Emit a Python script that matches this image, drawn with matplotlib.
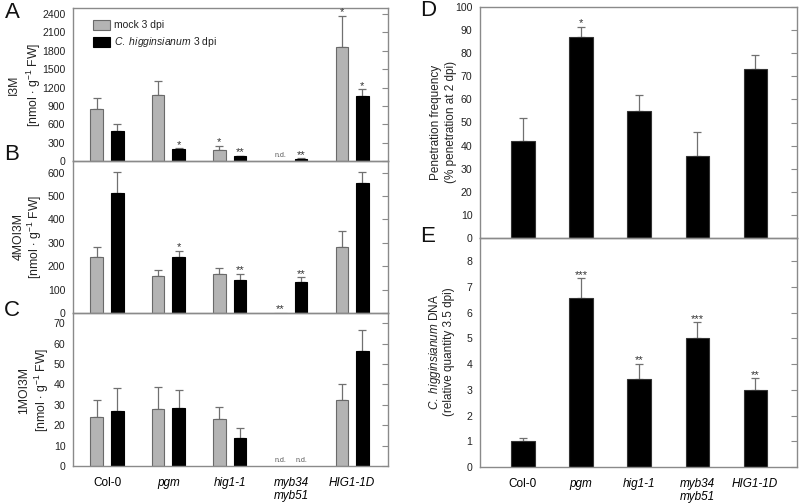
import matplotlib
matplotlib.use('Agg')
import matplotlib.pyplot as plt
from matplotlib.patches import Rectangle
import numpy as np

plt.rcParams['font.family'] = ['Liberation Sans', 'DejaVu Sans']
plt.rcParams['mathtext.fontset'] = 'custom'
plt.rcParams['mathtext.rm'] = 'Liberation Sans'
plt.rcParams['mathtext.it'] = 'Liberation Sans:italic'

# ---------------- data ----------------
genotypes = ['Col-0', 'pgm', 'hig1-1', 'myb34\nmyb51', 'HIG1-1D']
geno_italic = [False, True, True, True, True]

# Panel A: I3M [nmol g-1 FW]
i3m_mock = [843, 1083, 185, 0, 1867]
i3m_mock_err = [191, 223, 60, 0, 500]
i3m_ch = [495, 196, 76, 38, 1056]
i3m_ch_err = [104, 11, 11, 7, 114]
i3m_mock_sig = ['', '', '*', 'n.d.', '*']
i3m_ch_sig = ['', '*', '**', '**', '*']

# Panel B: 4MOI3M
moi4_mock = [238, 157, 168, 2, 284]
moi4_mock_err = [45, 28, 23, 0, 68]
moi4_ch = [514, 241, 142, 132, 557]
moi4_ch_err = [87, 26, 25, 21, 46]
moi4_mock_sig = ['', '', '', '**', '']
moi4_ch_sig = ['', '*', '**', '**', '']

# Panel C: 1MOI3M
moi1_mock = [23.9, 27.8, 23.1, 0, 32.2]
moi1_mock_err = [8.6, 11.0, 5.8, 0, 8.2]
moi1_ch = [27.2, 28.3, 13.9, 0, 56.6]
moi1_ch_err = [11.2, 8.8, 4.6, 0, 10.3]
moi1_mock_sig = ['', '', '', 'n.d.', '']
moi1_ch_sig = ['', '', '', 'n.d.', '']

# Panel D: penetration frequency (%)
pen = [41.8, 87.0, 55.1, 35.5, 73.1]
pen_err = [10.2, 4.3, 6.8, 10.2, 6.1]
pen_sig = ['', '*', '', '', '']

# Panel E: C. higginsianum DNA (relative quantity)
dna = [1.01, 6.55, 3.41, 5.02, 3.01]
dna_err = [0.13, 0.78, 0.61, 0.60, 0.44]
dna_sig = ['', '***', '**', '***', '**']

# ---------------- style ----------------
W, H = 800, 503
GRAY_BAR = '#b4b4b4'
GRAY_EDGE = '#6a6a6a'
SPINE = '#8a8a8a'
ERR = '#707070'
FS_TICK = 7.6
FS_X = 8.5
FS_STAR = 8

fig = plt.figure(figsize=(W / 100, H / 100), dpi=100)


def add_ax(x0, y0, x1, y1):
    return fig.add_axes([x0 / W, 1 - y1 / H, (x1 - x0) / W, (y1 - y0) / H])


def style(ax, ylim, ticks, xlim):
    ax.set_xlim(*xlim)
    ax.set_ylim(*ylim)
    ax.set_yticks(ticks)
    ax.set_yticklabels([str(t) for t in ticks], fontsize=FS_TICK, color='#222222')
    for s in ax.spines.values():
        s.set_color(SPINE)
        s.set_linewidth(1.0)
    ax.tick_params(axis='y', which='both', left=False, right=True, direction='in',
                   length=4, width=0.8, color=SPINE, pad=5.5)
    ax.tick_params(axis='x', bottom=False, labelbottom=False)
    ax.patch.set_alpha(0)


def errs(ax, xs, vals, es):
    xs2 = [x for x, e in zip(xs, es) if e > 0]
    v2 = [v for v, e in zip(vals, es) if e > 0]
    e2 = [e for e in es if e > 0]
    if xs2:
        ax.errorbar(xs2, v2, yerr=[np.zeros(len(e2)), e2], fmt='none', ecolor=ERR,
                    elinewidth=0.9, capsize=3.2, capthick=0.9, zorder=1)


def sigs(ax, xs, vals, es, labels, fs=FS_STAR):
    for x, v, e, s in zip(xs, vals, es, labels):
        if not s:
            continue
        if s == 'n.d.':
            ax.annotate('n.d.', (x, 0), xytext=(0, 1.5), textcoords='offset points',
                        ha='center', va='bottom', fontsize=5, color='#555555')
        else:
            ax.annotate(s, (x, v + e), xytext=(0, -1.0), textcoords='offset points',
                        ha='center', va='bottom', fontsize=fs, color='#333333')


def pair(ax, mock, merr, ch, cherr, msig, chsig):
    x = np.arange(len(mock))
    off, wd = 0.168, 0.205
    xm, xc = x - off, x + off
    keep_m = [i for i, s in enumerate(msig) if s != 'n.d.']
    keep_c = [i for i, s in enumerate(chsig) if s != 'n.d.']
    errs(ax, xm[keep_m], [mock[i] for i in keep_m], [merr[i] for i in keep_m])
    errs(ax, xc[keep_c], [ch[i] for i in keep_c], [cherr[i] for i in keep_c])
    ax.bar(xm[keep_m], [mock[i] for i in keep_m], wd, color=GRAY_BAR,
           edgecolor=GRAY_EDGE, linewidth=0.8, zorder=2)
    ax.bar(xc[keep_c], [ch[i] for i in keep_c], wd, color='black',
           edgecolor='black', linewidth=0.8, zorder=2)
    sigs(ax, xm, mock, merr, msig)
    sigs(ax, xc, ch, cherr, chsig)


LX0, LX1 = 73, 388
xlim_left = (-0.555, 4.585)

axA = add_ax(LX0, 8, LX1, 161)
pair(axA, i3m_mock, i3m_mock_err, i3m_ch, i3m_ch_err, i3m_mock_sig, i3m_ch_sig)
style(axA, (0, 2500), list(range(0, 2401, 300)), xlim_left)

axB = add_ax(LX0, 161, LX1, 313)
pair(axB, moi4_mock, moi4_mock_err, moi4_ch, moi4_ch_err, moi4_mock_sig, moi4_ch_sig)
style(axB, (0, 650), list(range(0, 601, 100)), xlim_left)

axC = add_ax(LX0, 313, LX1, 466)
pair(axC, moi1_mock, moi1_mock_err, moi1_ch, moi1_ch_err, moi1_mock_sig, moi1_ch_sig)
style(axC, (0, 75), list(range(0, 71, 10)), xlim_left)


def xlabels(ax):
    for i, (g, it) in enumerate(zip(genotypes, geno_italic)):
        ax.annotate(g, (i, 0), xytext=(0, -8), textcoords='offset points',
                    ha='center', va='top', fontsize=FS_X,
                    style='italic' if it else 'normal', linespacing=1.05,
                    annotation_clip=False)


xlabels(axC)

# legend in A
lx, ly = 93, 20
for k, (col, ec, lab) in enumerate([(GRAY_BAR, GRAY_EDGE, 'mock 3 dpi'),
                                     ('black', 'black',
                                      r'$\mathit{C.\ higginsianum}$ 3 dpi')]):
    yy = ly + k * 17
    fig.patches.append(Rectangle((lx / W, 1 - (yy + 10) / H), 17 / W, 10 / H,
                                 transform=fig.transFigure, facecolor=col,
                                 edgecolor=ec, linewidth=0.8))
    fig.text((lx + 21) / W, 1 - (yy + 5) / H, lab, fontsize=7.5, va='center',
             ha='left', color='#222222')

# right panels
RX0, RX1 = 480, 797
xlim_right = (-0.74, 4.72)


def single(ax, vals, es, sg):
    x = np.arange(len(vals))
    errs(ax, x, vals, es)
    ax.bar(x, vals, 0.40, color='black', edgecolor='#333333', linewidth=0.8, zorder=2)
    sigs(ax, x, vals, es, sg)


axD = add_ax(RX0, 7, RX1, 238)
single(axD, pen, pen_err, pen_sig)
style(axD, (0, 100), list(range(0, 101, 10)), xlim_right)

axE = add_ax(RX0, 238, RX1, 467)
single(axE, dna, dna_err, dna_sig)
style(axE, (0, 8.9), list(range(0, 9)), xlim_right)
xlabels(axE)


# y labels
def ylab(x, y, s, fs=8.8):
    fig.text(x / W, 1 - y / H, s, rotation=90, ha='center', va='center',
             fontsize=fs, color='#222222')


unit = r'[nmol $\cdot$ g$^{-1}$ FW]'
ylab(14, 85, 'I3M')
ylab(34, 85, unit)
ylab(19, 237, '4MOI3M')
ylab(35, 237, unit)
ylab(24, 390, '1MOI3M')
ylab(42, 390, unit)
ylab(436, 122, 'Penetration frequency', 8.5)
ylab(451, 122, '(% penetration at 2 dpi)', 8.5)
ylab(435, 352, r'$\mathit{C.\ higginsianum}$ DNA', 8.5)
ylab(449, 352, '(relative quantity 3.5 dpi)', 8.5)

# panel letters
for s, x, y in [('A', 12, 13), ('B', 12, 155), ('C', 12, 310), ('D', 428, 10), ('E', 428, 236)]:
    fig.text(x / W, 1 - y / H, s, fontsize=16, ha='center', va='center', color='#111111')

fig.savefig('out.png', dpi=100)
